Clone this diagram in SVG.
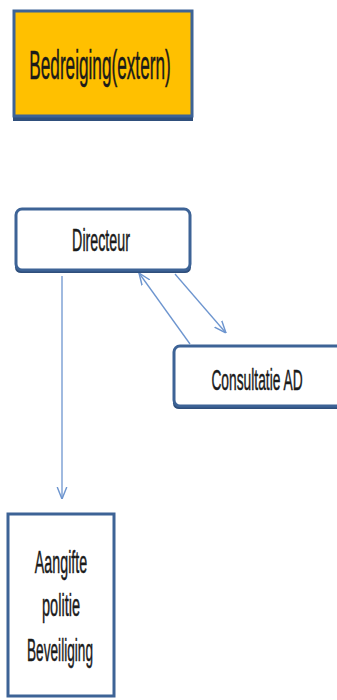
<svg xmlns="http://www.w3.org/2000/svg" width="337" height="700" viewBox="0 0 337 700">
<style>
.box{stroke:#3d6396;stroke-width:3}
.shadow{fill:#2f4f7c}
.t{font-family:"Liberation Sans","DejaVu Sans",sans-serif;fill:#1a1a1a;text-anchor:middle;stroke:#1a1a1a;stroke-width:0.5}
.c{fill:none;stroke:#6d95cf;stroke-width:1.3}
</style>
<defs>
<marker id="ah" viewBox="0 0 10 10" refX="10" refY="5" markerWidth="12" markerHeight="12" markerUnits="userSpaceOnUse" orient="auto">
<path d="M0,1 L10,5 L0,9" fill="none" stroke="#6d95cf" stroke-width="1.2"/>
</marker>
</defs>
<rect width="337" height="700" fill="#fff"/>
<g id="connectors">
<line class="c" x1="62" y1="276" x2="62" y2="499" marker-end="url(#ah)"/>
<line class="c" x1="190" y1="344" x2="139" y2="273" marker-end="url(#ah)"/>
<line class="c" x1="175" y1="274" x2="226" y2="333" marker-end="url(#ah)"/>
</g>
<g id="bedreiging">
<rect class="shadow" x="13" y="113" width="180" height="8"/>
<rect class="box" x="14" y="11" width="178" height="105" fill="#ffc000"/>
<text class="t" transform="translate(100,79) scale(0.43,1)" font-size="40">Bedreiging(extern)</text>
</g>
<g id="directeur">
<rect class="shadow" x="15" y="262" width="176" height="11" rx="6"/>
<rect class="box" x="16" y="209" width="174" height="61" rx="6" fill="#fff"/>
<text class="t" transform="translate(101,251) scale(0.46,1)" font-size="31">Directeur</text>
</g>
<g id="consultatie">
<rect class="shadow" x="173" y="398" width="170" height="11" rx="6"/>
<rect class="box" x="174" y="346" width="170" height="60" rx="6" fill="#fff"/>
<text class="t" transform="translate(257,390) scale(0.46,1)" font-size="30">Consultatie AD</text>
</g>
<g id="aangifte">
<rect class="box" x="8" y="514" width="106" height="182" fill="#fff"/>
<text class="t" transform="translate(61,573) scale(0.46,1)" font-size="31">Aangifte</text>
<text class="t" transform="translate(61,616) scale(0.47,1)" font-size="31">politie</text>
<text class="t" transform="translate(60,661) scale(0.44,1)" font-size="31">Beveiliging</text>
</g>
</svg>
